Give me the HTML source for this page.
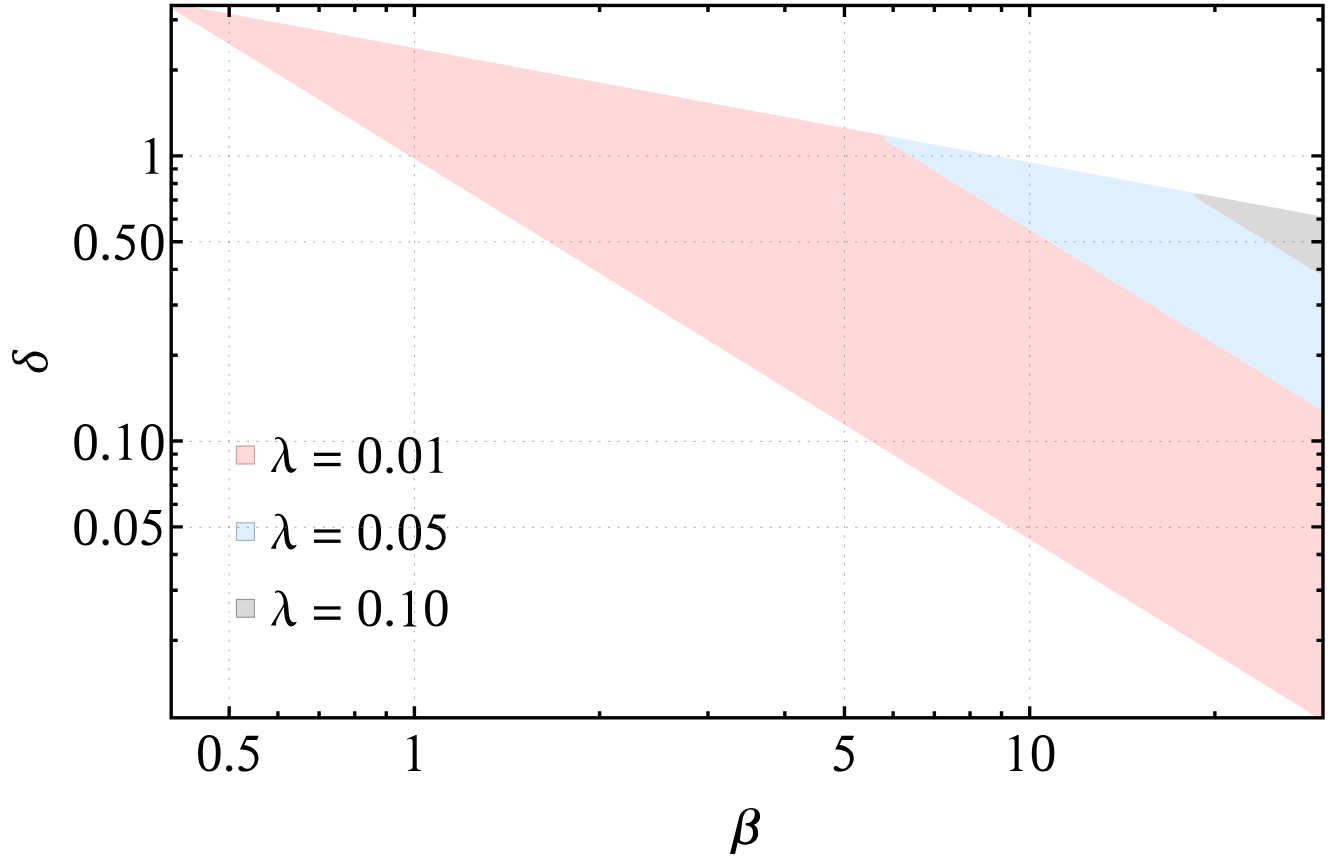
<!DOCTYPE html>
<html><head><meta charset="utf-8"><title>plot</title>
<style>
html,body{margin:0;padding:0;background:#fff;}
body{width:1329px;height:857px;overflow:hidden;}
svg{display:block;}
text{font-family:"Liberation Serif",serif;fill:#000;}
</style></head><body>
<svg width="1329" height="857" viewBox="0 0 1329 857">
<rect width="1329" height="857" fill="#ffffff"/>
<defs><clipPath id="c"><rect x="171.20" y="5.45" width="1151.80" height="712.35"/></clipPath></defs>
<g clip-path="url(#c)">
<polygon fill="#ffd9d9" points="169.20,2.56 886.45,135.68 885.05,139.66 1325.00,411.81 1325.00,722.13 169.20,7.15"/>
<polygon fill="#def0ff" points="886.45,135.68 1195.20,192.98 1193.70,196.40 1325.00,277.62 1325.00,411.81 885.05,139.66"/>
<polygon fill="#d9d9d9" points="1195.20,192.98 1325.00,217.07 1325.00,277.62 1193.70,196.40"/>
</g>
<rect x="235.5" y="445.2" width="19.6" height="19.6" fill="#ffd9d9" opacity="0.6"/>
<rect x="236.5" y="446.1" width="17.9" height="17.8" fill="#ffd9d9" stroke="#c79f9f" stroke-width="1.1"/>
<rect x="235.5" y="521.9" width="19.6" height="19.4" fill="#def0ff" opacity="0.6"/>
<rect x="236.5" y="522.8" width="17.9" height="17.6" fill="#def0ff" stroke="#9db1c5" stroke-width="1.1"/>
<rect x="235.5" y="598.6" width="19.6" height="19.5" fill="#d9d9d9" opacity="0.6"/>
<rect x="236.5" y="599.5" width="17.9" height="17.7" fill="#d9d9d9" stroke="#989898" stroke-width="1.1"/>
<defs><path id="g1" transform="scale(0.05831) translate(-124,-735)" d="M392,120L375,120L225,188L228,200C260,185 300,180 315,205C320,215 322,230 322,250L322,660C322,700 300,718 240,722L240,735L465,735L465,722C410,718 392,705 392,660Z"/><path id="g5" transform="scale(0.05831) translate(-126,-736)" d="M305,135L518,135L490,205L312,205L270,290C360,300 440,345 485,410C510,450 518,500 512,550C500,640 430,720 330,742C270,755 200,745 175,710C160,685 175,655 205,652C240,650 260,690 310,700C365,705 412,660 437,600C457,545 452,482 420,440C380,385 290,370 195,368Z"/></defs>
<g font-size="53.25">
<path transform="translate(262,428.00) scale(0.06772)" d="M190,152C205,138 225,132 245,133C290,135 335,170 360,235C380,290 388,350 392,420C396,490 405,545 425,575C440,598 465,605 485,600L515,592C500,625 470,660 435,662C385,662 350,610 335,520C327,470 324,420 322,372L215,575C208,600 205,625 208,650L135,650L135,640L300,372C312,350 320,330 320,300C318,250 300,200 268,170C250,155 225,155 195,172Z"/>
<rect x="314.0" y="452.70" width="26.55" height="3.25"/><rect x="314.0" y="462.90" width="26.55" height="3.3"/>
<text transform="translate(356.50,472.80) scale(1,1.03)">0</text><text x="383.12" y="472.80">.</text><text transform="translate(396.44,472.80) scale(1,1.03)">0</text><use href="#g1" x="423.06" y="472.80"/>
<path transform="translate(262,504.70) scale(0.06772)" d="M190,152C205,138 225,132 245,133C290,135 335,170 360,235C380,290 388,350 392,420C396,490 405,545 425,575C440,598 465,605 485,600L515,592C500,625 470,660 435,662C385,662 350,610 335,520C327,470 324,420 322,372L215,575C208,600 205,625 208,650L135,650L135,640L300,372C312,350 320,330 320,300C318,250 300,200 268,170C250,155 225,155 195,172Z"/>
<rect x="314.0" y="529.40" width="26.55" height="3.25"/><rect x="314.0" y="539.60" width="26.55" height="3.3"/>
<text transform="translate(356.50,549.50) scale(1,1.03)">0</text><text x="383.12" y="549.50">.</text><text transform="translate(396.44,549.50) scale(1,1.03)">0</text><use href="#g5" x="423.06" y="549.50"/>
<path transform="translate(262,581.60) scale(0.06772)" d="M190,152C205,138 225,132 245,133C290,135 335,170 360,235C380,290 388,350 392,420C396,490 405,545 425,575C440,598 465,605 485,600L515,592C500,625 470,660 435,662C385,662 350,610 335,520C327,470 324,420 322,372L215,575C208,600 205,625 208,650L135,650L135,640L300,372C312,350 320,330 320,300C318,250 300,200 268,170C250,155 225,155 195,172Z"/>
<rect x="314.0" y="606.30" width="26.55" height="3.25"/><rect x="314.0" y="616.50" width="26.55" height="3.3"/>
<text transform="translate(356.50,626.40) scale(1,1.03)">0</text><text x="383.12" y="626.40">.</text><use href="#g1" x="396.44" y="626.40"/><text transform="translate(423.06,626.40) scale(1,1.03)">0</text>
</g>
<g stroke="#808080" stroke-opacity="0.65" stroke-width="1" stroke-dasharray="2.2 7.304" fill="none">
<line x1="229.19" y1="718.0" x2="229.19" y2="5.45"/>
<line x1="414.40" y1="718.0" x2="414.40" y2="5.45"/>
<line x1="844.46" y1="718.0" x2="844.46" y2="5.45"/>
<line x1="1029.67" y1="718.0" x2="1029.67" y2="5.45"/>
<line x1="170.8" y1="156.00" x2="1323.00" y2="156.00"/>
<line x1="170.8" y1="241.91" x2="1323.00" y2="241.91"/>
<line x1="170.8" y1="441.38" x2="1323.00" y2="441.38"/>
<line x1="170.8" y1="527.29" x2="1323.00" y2="527.29"/>
</g>
<g stroke="#000" stroke-width="3.4" fill="none">
<path d="M229.19 717.80V706.20M229.19 5.45V17.05"/>
<path d="M414.40 717.80V706.20M414.40 5.45V17.05"/>
<path d="M844.46 717.80V706.20M844.46 5.45V17.05"/>
<path d="M1029.67 717.80V706.20M1029.67 5.45V17.05"/>
<path d="M277.90 717.80V711.30M277.90 5.45V11.95"/>
<path d="M319.09 717.80V711.30M319.09 5.45V11.95"/>
<path d="M354.77 717.80V711.30M354.77 5.45V11.95"/>
<path d="M386.25 717.80V711.30M386.25 5.45V11.95"/>
<path d="M599.61 717.80V711.30M599.61 5.45V11.95"/>
<path d="M707.96 717.80V711.30M707.96 5.45V11.95"/>
<path d="M784.83 717.80V711.30M784.83 5.45V11.95"/>
<path d="M893.17 717.80V711.30M893.17 5.45V11.95"/>
<path d="M934.36 717.80V711.30M934.36 5.45V11.95"/>
<path d="M970.04 717.80V711.30M970.04 5.45V11.95"/>
<path d="M1001.52 717.80V711.30M1001.52 5.45V11.95"/>
<path d="M1214.88 717.80V711.30M1214.88 5.45V11.95"/>
<path d="M171.20 155.87H182.80M1323.00 155.87H1311.40"/>
<path d="M171.20 241.72H182.80M1323.00 241.72H1311.40"/>
<path d="M171.20 441.07H182.80M1323.00 441.07H1311.40"/>
<path d="M171.20 526.92H182.80M1323.00 526.92H1311.40"/>
<path d="M171.20 19.80H177.70M1323.00 19.80H1316.50"/>
<path d="M171.20 70.02H177.70M1323.00 70.02H1316.50"/>
<path d="M171.20 168.92H177.70M1323.00 168.92H1316.50"/>
<path d="M171.20 183.51H177.70M1323.00 183.51H1316.50"/>
<path d="M171.20 200.05H177.70M1323.00 200.05H1316.50"/>
<path d="M171.20 219.14H177.70M1323.00 219.14H1316.50"/>
<path d="M171.20 269.36H177.70M1323.00 269.36H1316.50"/>
<path d="M171.20 305.00H177.70M1323.00 305.00H1316.50"/>
<path d="M171.20 355.22H177.70M1323.00 355.22H1316.50"/>
<path d="M171.20 454.12H177.70M1323.00 454.12H1316.50"/>
<path d="M171.20 468.71H177.70M1323.00 468.71H1316.50"/>
<path d="M171.20 485.25H177.70M1323.00 485.25H1316.50"/>
<path d="M171.20 504.34H177.70M1323.00 504.34H1316.50"/>
<path d="M171.20 554.56H177.70M1323.00 554.56H1316.50"/>
<path d="M171.20 590.20H177.70M1323.00 590.20H1316.50"/>
<path d="M171.20 640.42H177.70M1323.00 640.42H1316.50"/>
<rect x="171.20" y="5.45" width="1151.80" height="712.35"/>
</g>
<g font-size="53.25">
<text transform="translate(195.90,770.90) scale(1,1.03)">0</text><text x="222.53" y="770.90">.</text><use href="#g5" x="235.84" y="770.90"/>
<use href="#g1" x="401.09" y="770.90"/>
<use href="#g5" x="831.14" y="770.90"/>
<use href="#g1" x="1003.05" y="770.90"/><text transform="translate(1029.67,770.90) scale(1,1.03)">0</text>
<use href="#g1" x="138.88" y="173.87"/>
<text transform="translate(72.31,259.72) scale(1,1.03)">0</text><text x="98.94" y="259.72">.</text><use href="#g5" x="112.25" y="259.72"/><text transform="translate(138.88,259.72) scale(1,1.03)">0</text>
<text transform="translate(72.31,459.67) scale(1,1.03)">0</text><text x="98.94" y="459.67">.</text><use href="#g1" x="112.25" y="459.67"/><text transform="translate(138.88,459.67) scale(1,1.03)">0</text>
<text transform="translate(72.31,544.92) scale(1,1.03)">0</text><text x="98.94" y="544.92">.</text><text transform="translate(112.25,544.92) scale(1,1.03)">0</text><use href="#g5" x="138.88" y="544.92"/>
<path transform="translate(700,770) scale(0.10152)" fill-rule="evenodd" d="M295,828L385,470C400,410 450,375 505,375C557,375 595,408 592,458C590,505 560,530 530,540C560,555 578,590 572,640C565,700 505,738 440,736C410,735 388,726 372,712L345,828ZM392,690C405,703 425,712 445,712C490,712 520,672 522,620C524,580 505,555 470,550C455,548 448,542 448,534C448,526 458,522 470,522C510,520 538,480 540,432C541,402 522,390 498,390C455,392 432,435 420,480Z"/>
<text transform="translate(48.4,374.1) rotate(-90)" font-size="51" font-style="italic">δ</text>
<circle cx="15.3" cy="351.7" r="2.0"/>
</g>
</svg>
</body></html>
